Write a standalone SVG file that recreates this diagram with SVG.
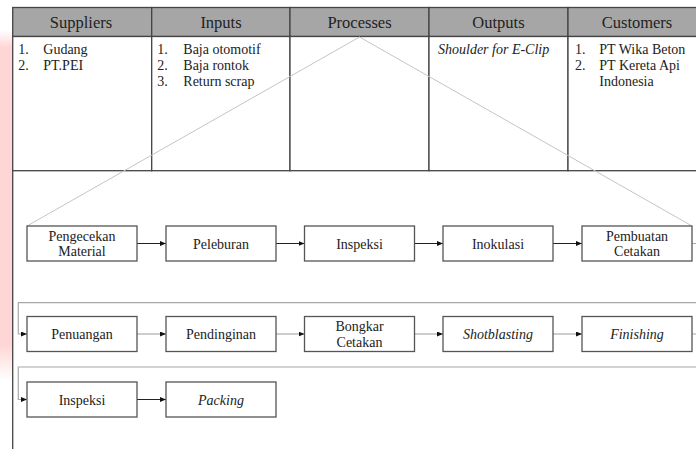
<svg xmlns="http://www.w3.org/2000/svg" width="696" height="449" viewBox="0 0 696 449">
<defs>
<linearGradient id="pink" x1="0" y1="0" x2="0" y2="1">
<stop offset="0" stop-color="#ffd6d6" stop-opacity="0"/>
<stop offset="0.05" stop-color="#ffd6d6" stop-opacity="1"/>
<stop offset="0.9" stop-color="#ffd6d6" stop-opacity="1"/>
<stop offset="1" stop-color="#ffd6d6" stop-opacity="0"/>
</linearGradient>
<marker id="ah" markerUnits="userSpaceOnUse" markerWidth="6" markerHeight="5" refX="6" refY="2.5" orient="auto">
<polygon points="0,0 6,2.5 0,5" fill="#111"/>
</marker>
</defs>
<style>
.hdr{fill:#a6a6a6;stroke:#444;stroke-width:1.3}
.cell{fill:#fff;stroke:#444;stroke-width:1.3}
.ht{font-family:"Liberation Serif",serif;font-size:16.5px;fill:#222;text-anchor:middle}
.bt{font-family:"Liberation Serif",serif;font-size:14px;fill:#222}
.box{fill:#fff;stroke:#555;stroke-width:1.3}
.lt{font-family:"Liberation Serif",serif;font-size:14px;fill:#222;text-anchor:middle}
.it{font-style:italic}
.tri{fill:none;stroke:#c4c4c4;stroke-width:1}
.arr{fill:none;stroke:#222;stroke-width:1;marker-end:url(#ah)}
.arrg{fill:none;stroke:#9a9a9a;stroke-width:1;marker-end:url(#ah)}
.wrap{fill:none;stroke:#a8a8a8;stroke-width:1.2;marker-end:url(#ah)}
</style>
<rect x="0" y="0" width="696" height="449" fill="#fff"/>
<rect x="0" y="30" width="12.5" height="350" fill="url(#pink)"/>

<g id="table">
<g id="headers">
<rect class="hdr" x="12.7" y="7.5" width="139" height="29"/>
<rect class="hdr" x="151.7" y="7.5" width="138.3" height="29"/>
<rect class="hdr" x="290" y="7.5" width="139" height="29"/>
<rect class="hdr" x="429" y="7.5" width="139" height="29"/>
<rect class="hdr" x="568" y="7.5" width="139" height="29"/>
<text class="ht" x="81" y="28">Suppliers</text>
<text class="ht" x="221" y="28">Inputs</text>
<text class="ht" x="359.5" y="28">Processes</text>
<text class="ht" x="498.5" y="28">Outputs</text>
<text class="ht" x="637" y="28">Customers</text>
</g>
<g id="cell-suppliers">
<rect class="cell" x="12.7" y="36.5" width="139" height="134.2"/>
<text class="bt" x="18.3" y="54">1.</text><text class="bt" x="43.3" y="54">Gudang</text>
<text class="bt" x="18.3" y="70">2.</text><text class="bt" x="43.3" y="70">PT.PEI</text>
</g>
<g id="cell-inputs">
<rect class="cell" x="151.7" y="36.5" width="138.3" height="134.2"/>
<text class="bt" x="157.3" y="54">1.</text><text class="bt" x="183.3" y="54">Baja otomotif</text>
<text class="bt" x="157.3" y="70">2.</text><text class="bt" x="183.3" y="70">Baja rontok</text>
<text class="bt" x="157.3" y="86">3.</text><text class="bt" x="183.3" y="86">Return scrap</text>
</g>
<g id="cell-processes">
<rect class="cell" x="290" y="36.5" width="139" height="134.2"/>
</g>
<g id="cell-outputs">
<rect class="cell" x="429" y="36.5" width="139" height="134.2"/>
<text class="bt it" x="438" y="54">Shoulder for E-Clip</text>
</g>
<g id="cell-customers">
<rect class="cell" x="568" y="36.5" width="139" height="134.2"/>
<text class="bt" x="575" y="54">1.</text><text class="bt" x="599.3" y="54">PT Wika Beton</text>
<text class="bt" x="575" y="70">2.</text><text class="bt" x="599.3" y="70">PT Kereta Api</text>
<text class="bt" x="599.3" y="86">Indonesia</text>
</g>
<g id="frame">
<line x1="12.7" y1="170.7" x2="12.7" y2="449" stroke="#444" stroke-width="1.3"/>
</g>
</g>

<g id="connectors">
<polyline class="tri" points="27,226 359.5,37 692,226"/>
<line class="arr" x1="137" y1="243.5" x2="166" y2="243.5"/>
<line class="arr" x1="276" y1="243.5" x2="304.5" y2="243.5"/>
<line class="arr" x1="414.5" y1="243.5" x2="443" y2="243.5"/>
<line class="arr" x1="553" y1="243.5" x2="582" y2="243.5"/>
<polyline class="wrap" points="692,243.5 710,243.5 710,302.7 18.3,302.7 18.3,334 27,334"/>
<line class="arrg" x1="137" y1="334" x2="166" y2="334"/>
<line class="arrg" x1="276" y1="334" x2="304.5" y2="334"/>
<line class="arrg" x1="414.5" y1="334" x2="443" y2="334"/>
<line class="arrg" x1="553" y1="334" x2="582" y2="334"/>
<polyline class="wrap" points="692,334 710,334 710,367 18.3,367 18.3,399.5 27,399.5"/>
<line class="arr" x1="137" y1="399.5" x2="166" y2="399.5"/>
</g>

<g id="n-pengecekan"><rect class="box" x="27" y="226" width="110" height="35"/><text class="lt" x="82" y="240.5">Pengecekan</text><text class="lt" x="82" y="256">Material</text></g>
<g id="n-peleburan"><rect class="box" x="166" y="226" width="110" height="35"/><text class="lt" x="221" y="248.5">Peleburan</text></g>
<g id="n-inspeksi1"><rect class="box" x="304.5" y="226" width="110" height="35"/><text class="lt" x="359.5" y="248.5">Inspeksi</text></g>
<g id="n-inokulasi"><rect class="box" x="443" y="226" width="110" height="35"/><text class="lt" x="498" y="248.5">Inokulasi</text></g>
<g id="n-pembuatan"><rect class="box" x="582" y="226" width="110" height="35"/><text class="lt" x="637" y="240.5">Pembuatan</text><text class="lt" x="637" y="256">Cetakan</text></g>

<g id="n-penuangan"><rect class="box" x="27" y="316.5" width="110" height="35"/><text class="lt" x="82" y="339">Penuangan</text></g>
<g id="n-pendinginan"><rect class="box" x="166" y="316.5" width="110" height="35"/><text class="lt" x="221" y="339">Pendinginan</text></g>
<g id="n-bongkar"><rect class="box" x="304.5" y="316.5" width="110" height="35"/><text class="lt" x="359.5" y="331">Bongkar</text><text class="lt" x="359.5" y="346.5">Cetakan</text></g>
<g id="n-shotblasting"><rect class="box" x="443" y="316.5" width="110" height="35"/><text class="lt it" x="498" y="339">Shotblasting</text></g>
<g id="n-finishing"><rect class="box" x="582" y="316.5" width="110" height="35"/><text class="lt it" x="637" y="339">Finishing</text></g>

<g id="n-inspeksi2"><rect class="box" x="27" y="382" width="110" height="35"/><text class="lt" x="82" y="404.5">Inspeksi</text></g>
<g id="n-packing"><rect class="box" x="166" y="382" width="110" height="35"/><text class="lt it" x="221" y="404.5">Packing</text></g>
</svg>
